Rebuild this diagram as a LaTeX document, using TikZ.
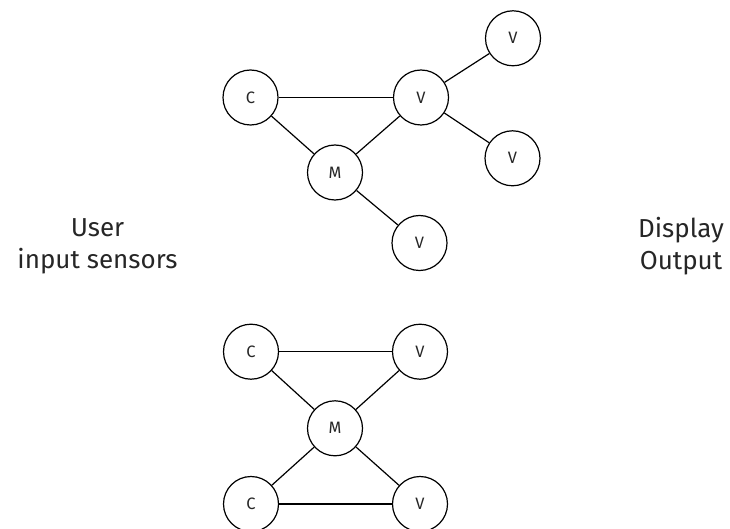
\documentclass[tikz,border=0pt]{standalone}
\usepackage{fontspec}
\setmainfont{Fira Sans}
\begin{document}
\begin{tikzpicture}[x=1pt,y=1pt,
  vnode/.style={draw, line width=1.2pt, circle, minimum size=55pt, inner sep=0pt, font=\fontsize{16.5}{18}\selectfont, text=black!85},
  link/.style={line width=1.2pt},
  side/.style={align=center, font=\fontsize{26}{32}\selectfont, text=black!85}]
\useasboundingbox (0,0) rectangle (730,528);
\clip (0,0) rectangle (730,528);
% top cluster
\node[vnode] (c1) at (250.5,430.5) {C};
\node[vnode] (v1) at (421,430.5) {V};
\node[vnode] (v2) at (513,489.7) {V};
\node[vnode] (v3) at (512.5,369.7) {V};
\node[vnode] (m1) at (335,355.5) {M};
\node[vnode] (v4) at (419.5,285) {V};
\draw[link] (c1) -- (v1);
\draw[link] (c1) -- (m1);
\draw[link] (m1) -- (v1);
\draw[link] (v1) -- (v2);
\draw[link] (v1) -- (v3);
\draw[link] (m1) -- (v4);
% bottom cluster
\node[vnode] (c2) at (251,176.3) {C};
\node[vnode] (v5) at (420,176.3) {V};
\node[vnode] (m2) at (335,99.7) {M};
\node[vnode] (c3) at (251,24) {C};
\node[vnode] (v6) at (420,24) {V};
\draw[link] (c2) -- (v5);
\draw[link] (c2) -- (m2);
\draw[link] (m2) -- (v5);
\draw[link] (m2) -- (c3);
\draw[link] (m2) -- (v6);
\draw[link] (c3) -- (v6);
% side labels
\node[side] (user) at (97.5,282) {User\\input sensors};
\node[side] (disp) at (681,282) {Display\\Output};
\end{tikzpicture}
\end{document}
